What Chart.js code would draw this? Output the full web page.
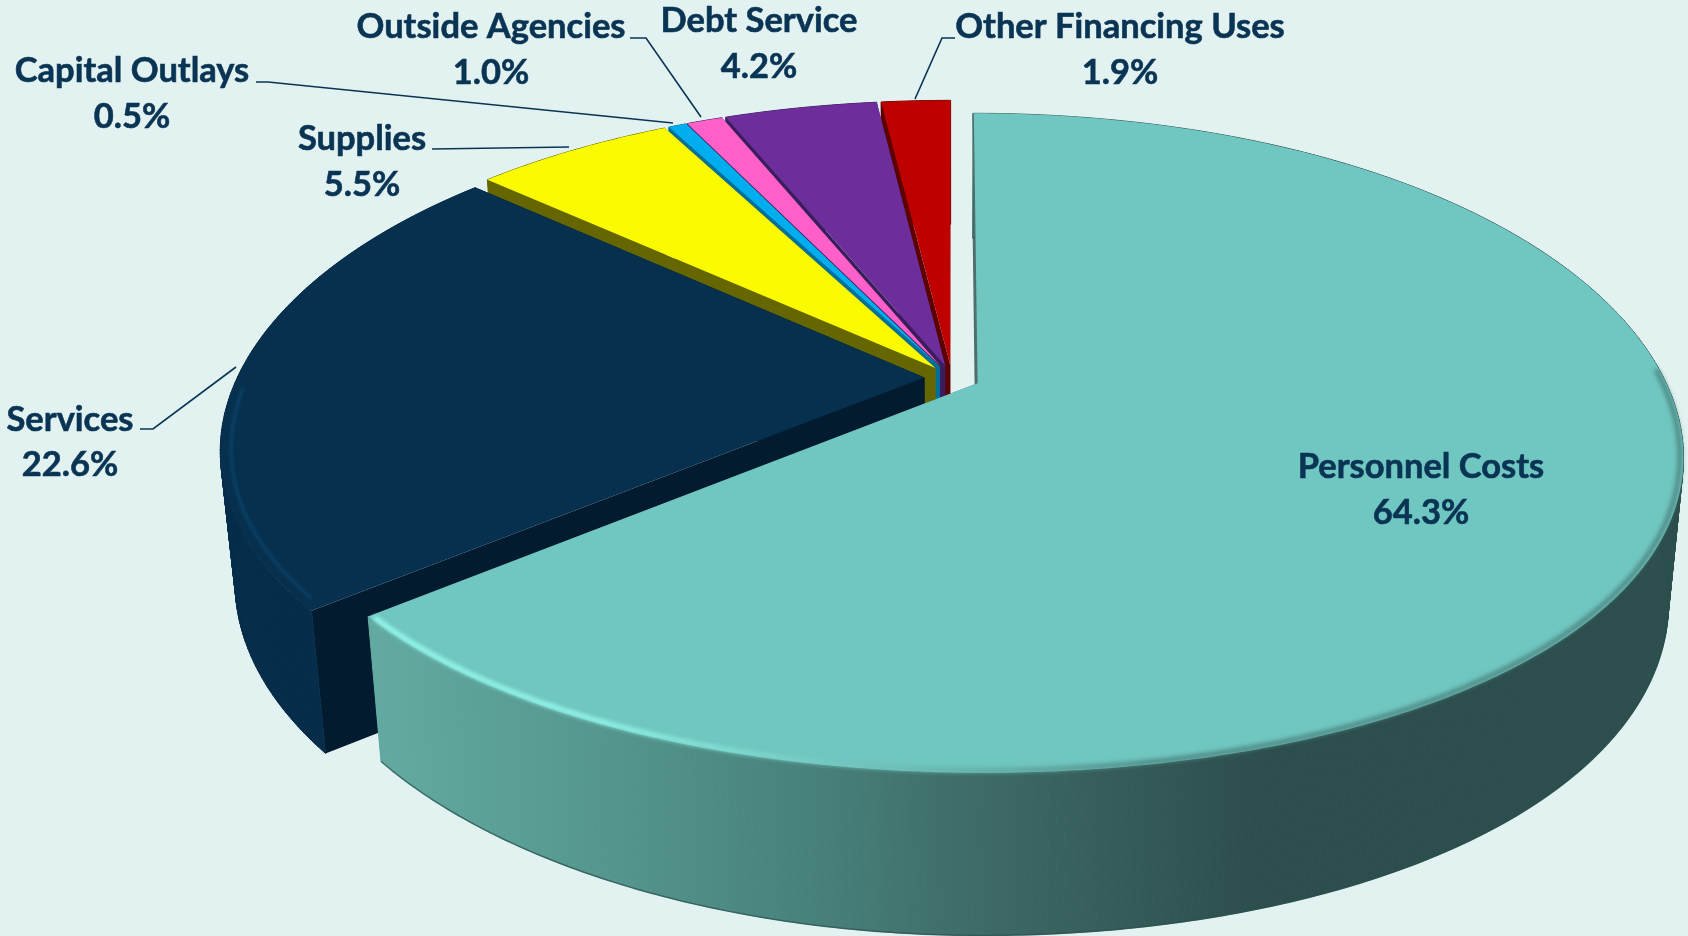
<!DOCTYPE html>
<html>
<head>
<meta charset="utf-8">
<title>Expenditures by Category</title>
<script src="https://cdn.jsdelivr.net/npm/chart.js@4"></script>
<style>
  html, body { margin: 0; padding: 0; background: #E2F2F0; }
  canvas { display: block; }
</style>
</head>
<body>
<canvas id="pieChart" width="1688" height="936"></canvas>
<script>
const categories = ['Personnel Costs', 'Services', 'Supplies', 'Capital Outlays', 'Outside Agencies', 'Debt Service', 'Other Financing Uses'];
const percents = [64.3, 22.6, 5.5, 0.5, 1.0, 4.2, 1.9];

const topColors = ['#70C6C0', '#06304E', '#FBFB00', '#00AEEF', '#FF5FC8', '#6D2E9B', '#BE0000'];
const faceColors = ['#4F6F6D', '#031B2E', '#666600', '#00709A', '#3A1D5C', '#3A1D5C', '#5C0000'];
const textColor = '#0A3454';

// label centres: name line y, value line y
const labelSpots = [
  [1421, 467, 513], [70, 420, 465], [362, 139, 185], [132, 71, 117],
  [491, 27, 73], [759, 21, 67], [1120, 27, 73]
];
// leader lines, slice order (Personnel Costs has none)
const leaders = [
  null,
  [[140, 429], [153, 429], [236, 367]],
  [[432, 149], [569, 147]],
  [[256, 82], [268, 82], [673, 123]],
  [[630, 38], [646, 38], [701, 117]],
  null,
  [[955, 38], [942, 38], [915, 99]]
];

// perspective of the pie disc on the page; sag pulls the sides of the disc down a little
const view = { x0: 952, y0: 378, a: 692, b: 317, p: 0.18, q: 0.02, c: 144, sag: 10 };

function project(u, v, t) {
  const w = 1 + view.p * v + view.q * t;
  const sag = (t && u < 0) ? 0 : view.sag * u * u * (1 - v);
  return [view.x0 + view.a * u / w, view.y0 + (-view.b * v + view.c * t) / w + sag];
}

// point on a slice: r is 0..1 along the radius, t 0 = top face, 1 = bottom face
function slicePoint(arc, angle, r, t) {
  const mid = (arc.startAngle + arc.endAngle) / 2;
  const e = arc.options.offset / 4 / arc.outerRadius;
  const u = e * Math.cos(mid) + r * Math.cos(angle);
  const v = -e * Math.sin(mid) - r * Math.sin(angle);
  return project(u, v, t);
}

function rimPoints(arc, from, to, r, t) {
  const steps = Math.max(4, Math.ceil(Math.abs(to - from) / 0.01));
  const pts = [];
  for (let i = 0; i <= steps; i++) {
    pts.push(slicePoint(arc, from + (to - from) * i / steps, r, t));
  }
  return pts;
}

function tracePath(ctx, pts, close) {
  ctx.beginPath();
  pts.forEach((p, i) => (i ? ctx.lineTo(p[0], p[1]) : ctx.moveTo(p[0], p[1])));
  if (close) ctx.closePath();
}

function sideFill(ctx, index) {
  if (index === 0) {
    const g = ctx.createLinearGradient(380, 0, 1260, 0);
    g.addColorStop(0, '#62AAA1');
    g.addColorStop(0.25, '#55978F');
    g.addColorStop(0.5, '#47807A');
    g.addColorStop(0.72, '#3C6663');
    g.addColorStop(1, '#2C4E4C');
    return g;
  }
  if (index === 1) return '#052C48';
  return faceColors[index];
}

function softStroke(ctx, pts, style, width, blur) {
  ctx.save();
  ctx.filter = 'blur(' + blur + 'px)';
  ctx.strokeStyle = style;
  ctx.lineWidth = width;
  ctx.lineCap = 'round';
  tracePath(ctx, pts, false);
  ctx.stroke();
  ctx.restore();
}

function drawSlice(ctx, arc, index) {
  const start = arc.startAngle;
  const end = arc.endAngle;
  const top = rimPoints(arc, start, end, 1, 0);
  const bottom = rimPoints(arc, start, end, 1, 1);

  // radial cut faces
  ctx.fillStyle = faceColors[index];
  [end, start].forEach(a => {
    tracePath(ctx, [slicePoint(arc, a, 0, 0), slicePoint(arc, a, 1, 0), slicePoint(arc, a, 1, 1), slicePoint(arc, a, 0, 1)], true);
    ctx.fill();
  });

  // outer wall, strip by strip so the sides run straight down from the rim
  const wall = sideFill(ctx, index);
  ctx.fillStyle = wall;
  ctx.strokeStyle = wall;
  ctx.lineWidth = 1;
  for (let i = 0; i < top.length - 1; i++) {
    tracePath(ctx, [top[i], top[i + 1], bottom[i + 1], bottom[i]], true);
    ctx.fill();
    ctx.stroke();
  }
  if (index === 0) {
    ctx.strokeStyle = 'rgba(40, 80, 78, 0.7)';
    ctx.lineWidth = 1.5;
    tracePath(ctx, bottom, false);
    ctx.stroke();
  }

  // top face
  ctx.fillStyle = topColors[index];
  tracePath(ctx, [slicePoint(arc, start, 0, 0)].concat(top), true);
  ctx.fill();

  // rim bevels on the two large slices
  if (index === 0) {
    const g = ctx.createLinearGradient(370, 0, 1150, 0);
    g.addColorStop(0, '#9AFFF2');
    g.addColorStop(0.3, '#96FBEE');
    g.addColorStop(0.55, '#78D0C8');
    g.addColorStop(0.8, '#5FA8A2');
    g.addColorStop(1, '#4C8581');
    softStroke(ctx, rimPoints(arc, start + 1.5, end - 0.01, 0.995, 0), g, 4.5, 2);
    ctx.strokeStyle = faceColors[0];
    ctx.lineWidth = 1.5;
    tracePath(ctx, [slicePoint(arc, start, 1, 0), slicePoint(arc, start, 0, 0)], false);
    ctx.stroke();
  }
  if (index === 1) {
    softStroke(ctx, rimPoints(arc, start + 0.03, end - 0.75, 0.985, 0), '#0C4268', 3, 1.5);
  }
}

// draws the slices from the chart's own arc elements, back ones first
const pie3d = {
  id: 'pie3d',
  beforeDatasetsDraw(chart) {
    const ctx = chart.ctx;
    const arcs = chart.getDatasetMeta(0).data;
    ctx.save();
    for (let i = arcs.length - 1; i >= 0; i--) {
      drawSlice(ctx, arcs[i], i);
    }
    ctx.restore();
    return false;
  },
  afterDraw(chart) {
    const ctx = chart.ctx;
    ctx.save();
    ctx.strokeStyle = textColor;
    ctx.lineWidth = 1.6;
    leaders.forEach(line => {
      if (!line) return;
      tracePath(ctx, line, false);
      ctx.stroke();
    });
    ctx.fillStyle = textColor;
    ctx.strokeStyle = textColor;
    ctx.lineWidth = 0.6;
    ctx.font = 'bold 34.5px Lato';
    ctx.textAlign = 'center';
    ctx.textBaseline = 'middle';
    categories.forEach((name, i) => {
      const value = percents[i].toFixed(1) + '%';
      ctx.fillText(name, labelSpots[i][0], labelSpots[i][1]);
      ctx.strokeText(name, labelSpots[i][0], labelSpots[i][1]);
      ctx.fillText(value, labelSpots[i][0], labelSpots[i][2]);
      ctx.strokeText(value, labelSpots[i][0], labelSpots[i][2]);
    });
    ctx.restore();
  }
};

new Chart(document.getElementById('pieChart').getContext('2d'), {
  type: 'pie',
  data: {
    labels: categories,
    datasets: [{
      data: percents,
      backgroundColor: topColors,
      borderWidth: 0,
      offset: 70
    }]
  },
  options: {
    responsive: false,
    animation: false,
    radius: 440,
    plugins: { legend: { display: false }, tooltip: { enabled: false } }
  },
  plugins: [pie3d]
});
</script>
</body>
</html>
